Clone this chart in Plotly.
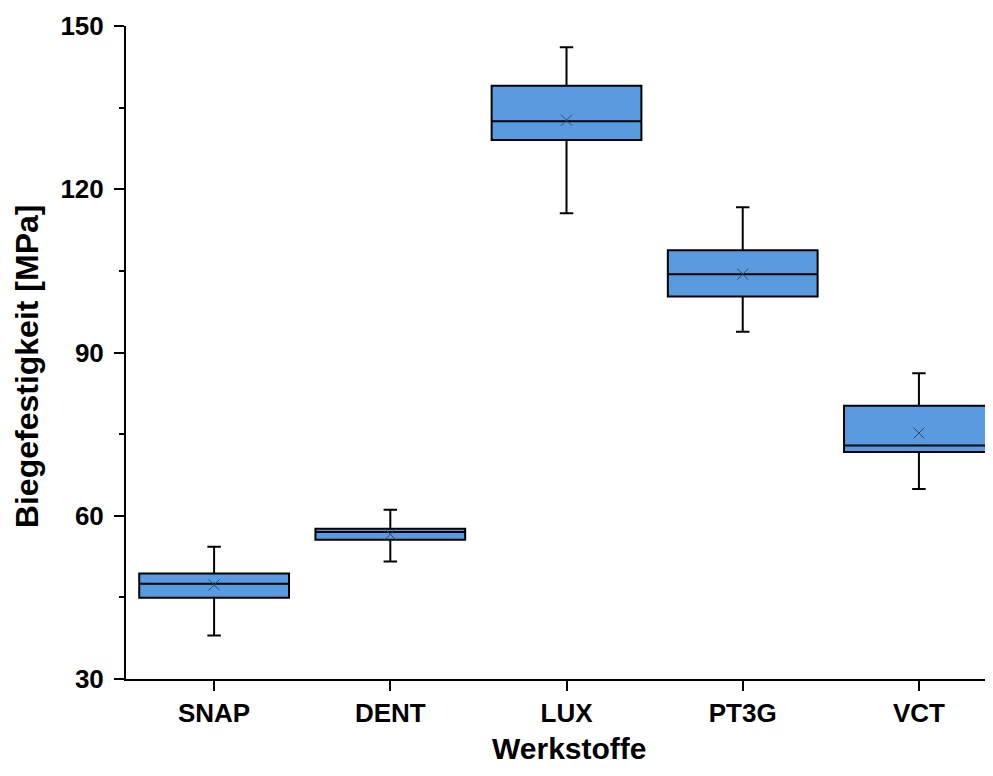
import plotly.graph_objects as go

categories = ["SNAP", "DENT", "LUX", "PT3G", "VCT"]
lower_whisker = [38.0, 51.6, 115.6, 93.8, 64.9]
q1_values = [44.95, 55.6, 129.05, 100.3, 71.7]
median_values = [47.5, 57.0, 132.5, 104.4, 72.9]
q3_values = [49.4, 57.6, 139.0, 108.8, 80.2]
upper_whisker = [54.3, 61.1, 146.1, 116.7, 86.2]
mean_values = [47.3, 56.6, 132.7, 104.4, 75.2]
y_ticks = [30, 60, 90, 120, 150]

font_family = "Liberation Sans, Arial, sans-serif"

fig = go.Figure()
fig.add_trace(go.Box(
    x=categories,
    q1=q1_values,
    median=median_values,
    q3=q3_values,
    lowerfence=lower_whisker,
    upperfence=upper_whisker,
    fillcolor="#5A9AE0",
    line=dict(color="black", width=2),
    whiskerwidth=0.09,
    boxpoints=False,
    showlegend=False,
    hoverinfo="skip",
))
fig.add_trace(go.Scatter(
    x=categories,
    y=mean_values,
    mode="markers",
    marker=dict(symbol="x-thin", size=11, line=dict(width=1, color="#2C4A6A")),
    showlegend=False,
    hoverinfo="skip",
))

fig.update_layout(
    width=977, height=760,
    margin=dict(l=118, r=0, t=18, b=89),
    plot_bgcolor="white", paper_bgcolor="white",
    boxgap=0.15, boxgroupgap=0,
    font=dict(family=font_family, color="black"),
    annotations=[
        dict(text="<b>Werkstoffe</b>", xref="paper", yref="paper",
             x=0.516, y=-0.1355, xanchor="center", yanchor="bottom",
             showarrow=False, font=dict(size=30, family=font_family, color="black")),
        dict(text="<b>Biegefestigkeit [MPa]</b>", xref="paper", yref="paper",
             x=-0.1153, y=0.479, xanchor="center", yanchor="middle", textangle=-90,
             showarrow=False, font=dict(size=32, family=font_family, color="black")),
    ],
)
fig.update_xaxes(
    type="category",
    range=[-0.5, 4.375],
    showline=True, linecolor="black", linewidth=2,
    ticks="outside", ticklen=10, tickwidth=2, tickcolor="black",
    tickfont=dict(size=26, family=font_family, weight="bold"),
    showgrid=False, zeroline=False,
)
fig.update_yaxes(
    range=[30, 150],
    tickvals=y_ticks,
    ticktext=[str(v) for v in y_ticks],
    showline=True, linecolor="black", linewidth=2,
    ticks="outside", ticklen=10, tickwidth=2, tickcolor="black",
    ticklabelstandoff=5,
    minor=dict(dtick=15, tick0=30, ticks="outside", ticklen=5, tickwidth=2, tickcolor="black"),
    tickfont=dict(size=26, family=font_family, weight="bold"),
    showgrid=False, zeroline=False,
)

fig.write_html("out.html")
